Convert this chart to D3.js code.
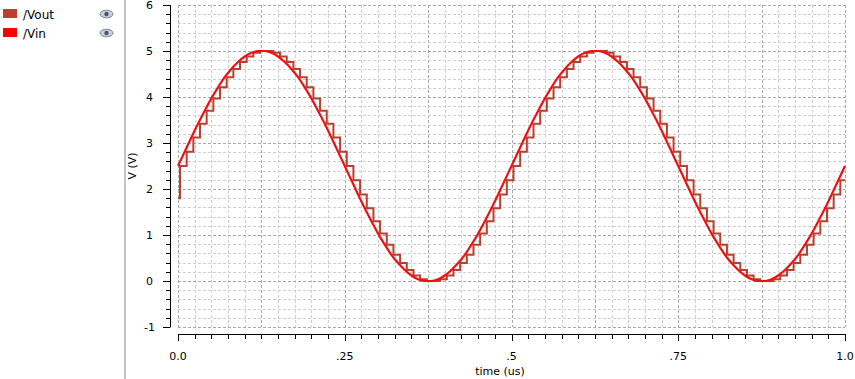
<!DOCTYPE html>
<html><head><meta charset="utf-8">
<script src="https://cdn.jsdelivr.net/npm/d3@7"></script>
<style>html,body{margin:0;padding:0;background:#fff;}svg{display:block;}</style>
</head><body>
<svg id="chart" width="855" height="379"></svg>
<script>
// ---- data ----
const seriesNames = ["/Vout", "/Vin"];
const seriesColors = ["#b9402e", "#ff0000"];
const sampleStep = 0.01;     // us between samples
const holdDelay = 0.003;     // us delay of the held output
// Vin sampled every 0.01 us from 0 to 1.0 us
const vinValues = [
 2.50,2.81,3.12,3.42,3.70,3.97,4.21,4.43,4.61,4.76,4.88,4.96,5.00,5.00,4.96,4.88,4.76,4.61,4.43,4.21,
 3.97,3.70,3.42,3.12,2.81,2.50,2.19,1.88,1.58,1.30,1.03,0.79,0.57,0.39,0.24,0.12,0.04,0.00,0.00,0.04,
 0.12,0.24,0.39,0.57,0.79,1.03,1.30,1.58,1.88,2.19,
 2.50,2.81,3.12,3.42,3.70,3.97,4.21,4.43,4.61,4.76,4.88,4.96,5.00,5.00,4.96,4.88,4.76,4.61,4.43,4.21,
 3.97,3.70,3.42,3.12,2.81,2.50,2.19,1.88,1.58,1.30,1.03,0.79,0.57,0.39,0.24,0.12,0.04,0.00,0.00,0.04,
 0.12,0.24,0.39,0.57,0.79,1.03,1.30,1.58,1.88,2.19,2.50];
// Vout: initial level, then held level after each sample
const voutInitial = 1.80;
const voutValues = [
 2.50,2.81,3.12,3.42,3.70,3.97,4.21,4.43,4.61,4.76,4.88,4.96,5.00,5.00,4.96,4.88,4.76,4.61,4.43,4.21,
 3.97,3.70,3.42,3.12,2.81,2.50,2.19,1.88,1.58,1.30,1.03,0.79,0.57,0.39,0.24,0.12,0.04,0.00,0.00,0.04,
 0.12,0.24,0.39,0.57,0.79,1.03,1.30,1.58,1.88,2.19,
 2.50,2.81,3.12,3.42,3.70,3.97,4.21,4.43,4.61,4.76,4.88,4.96,5.00,5.00,4.96,4.88,4.76,4.61,4.43,4.21,
 3.97,3.70,3.42,3.12,2.81,2.50,2.19,1.88,1.58,1.30,1.03,0.79,0.57,0.39,0.24,0.12,0.04,0.00,0.00,0.04,
 0.12,0.24,0.39,0.57,0.79,1.03,1.30,1.58,1.88,2.19];
const xTickValues = [0, 0.25, 0.5, 0.75, 1.0];
const xTickLabels = ["0.0", ".25", ".5", ".75", "1.0"];
const yTickValues = [-1, 0, 1, 2, 3, 4, 5, 6];
const xTitle = "time (us)";
const yTitle = "V (V)";

// ---- drawing ----
const svg = d3.select("#chart");
const font = "'DejaVu Sans', sans-serif";
const x = d3.scaleLinear().domain([0, 1]).range([178, 845]);
const y = d3.scaleLinear().domain([-1, 6]).range([327, 5]);

// left panel separator
svg.append("rect").attr("x", 124).attr("y", 0).attr("width", 2).attr("height", 379).attr("fill", "#c4c4c4");

// legend
const leg = svg.append("g");
seriesNames.forEach((n, i) => {
  const gy = 9 + i * 19;
  leg.append("rect").attr("x", 3).attr("y", gy).attr("width", 14).attr("height", 9).attr("fill", seriesColors[i]);
  leg.append("text").attr("x", 23).attr("y", gy + 9.5).attr("font-family", font).attr("font-size", 12)
    .attr("fill", "#000").text(n);
  const ex = 106.5, ey = gy + 5;
  leg.append("ellipse").attr("cx", ex).attr("cy", ey).attr("rx", 6.5).attr("ry", 3.8)
    .attr("fill", "#c9d0dc").attr("stroke", "#7d8796").attr("stroke-width", 1);
  leg.append("circle").attr("cx", ex).attr("cy", ey).attr("r", 2.2).attr("fill", "#4a5566");
});

// grid
const grid = svg.append("g");
const xMinor = d3.range(0, 1.0001, 0.025);
const yMinor = d3.range(-1, 6.0001, 0.2);
xMinor.forEach(t => {
  const major = Math.abs(t / 0.125 - Math.round(t / 0.125)) < 1e-6;
  grid.append("line").attr("x1", Math.round(x(t)) + 0.5).attr("x2", Math.round(x(t)) + 0.5)
    .attr("y1", y(6)).attr("y2", y(-1))
    .attr("stroke", major ? "#a9a9a9" : "#cfcfcf").attr("stroke-dasharray", "3,2").attr("stroke-width", 1);
});
yMinor.forEach(v => {
  const major = Math.abs(v - Math.round(v)) < 1e-6;
  grid.append("line").attr("x1", x(0)).attr("x2", x(1))
    .attr("y1", Math.round(y(v)) + 0.5).attr("y2", Math.round(y(v)) + 0.5)
    .attr("stroke", major ? "#a9a9a9" : "#cfcfcf").attr("stroke-dasharray", "3,2").attr("stroke-width", 1);
});

// y axis
const yAxisX = 170;
const ya = svg.append("g");
ya.append("line").attr("x1", yAxisX + 0.5).attr("x2", yAxisX + 0.5).attr("y1", y(6)).attr("y2", y(-1) + 0.5)
  .attr("stroke", "#000");
yMinor.forEach(v => {
  const major = Math.abs(v - Math.round(v)) < 1e-6;
  ya.append("line").attr("x1", major ? yAxisX - 7 : yAxisX - 4).attr("x2", yAxisX)
    .attr("y1", Math.round(y(v)) + 0.5).attr("y2", Math.round(y(v)) + 0.5).attr("stroke", "#000");
});
yTickValues.forEach(v => {
  ya.append("text").attr("x", 149.5).attr("y", y(v) + 4).attr("text-anchor", "middle")
    .attr("font-family", font).attr("font-size", 11).text(v);
});
ya.append("text").attr("transform", `translate(136,${y(2.5)}) rotate(-90)`).attr("text-anchor", "middle")
  .attr("font-family", font).attr("font-size", 11).text(yTitle);

// x axis
const xAxisY = 334;
const xa = svg.append("g");
xa.append("line").attr("x1", x(0)).attr("x2", x(1) + 0.5).attr("y1", xAxisY + 0.5).attr("y2", xAxisY + 0.5)
  .attr("stroke", "#000");
xMinor.forEach(t => {
  const major = Math.abs(t / 0.25 - Math.round(t / 0.25)) < 1e-6;
  xa.append("line").attr("x1", Math.round(x(t)) + 0.5).attr("x2", Math.round(x(t)) + 0.5)
    .attr("y1", xAxisY).attr("y2", xAxisY + (major ? 7 : 5)).attr("stroke", "#000");
});
xTickValues.forEach((t, i) => {
  xa.append("text").attr("x", x(t)).attr("y", 360).attr("text-anchor", "middle")
    .attr("font-family", font).attr("font-size", 11).text(xTickLabels[i]);
});
xa.append("text").attr("x", 500).attr("y", 375).attr("text-anchor", "middle")
  .attr("font-family", font).attr("font-size", 11).text(xTitle);

// Vout (held, delayed)
const voutPts = [[0, voutInitial]];
voutValues.forEach((v, k) => voutPts.push([k * sampleStep + holdDelay, v]));
voutPts.push([1.0, voutValues[voutValues.length - 1]]);
const stepLine = d3.line().x(d => x(d[0])).y(d => y(d[1])).curve(d3.curveStepAfter);
svg.append("path").attr("d", stepLine(voutPts)).attr("fill", "none")
  .attr("stroke", seriesColors[0]).attr("stroke-width", 2);

// Vin
const vinPts = vinValues.map((v, k) => [k * sampleStep, v]);
const smoothLine = d3.line().x(d => x(d[0])).y(d => y(d[1])).curve(d3.curveMonotoneX);
svg.append("path").attr("d", smoothLine(vinPts)).attr("fill", "none")
  .attr("stroke", "#ee1111").attr("stroke-width", 2.2);
</script>
</body></html>
